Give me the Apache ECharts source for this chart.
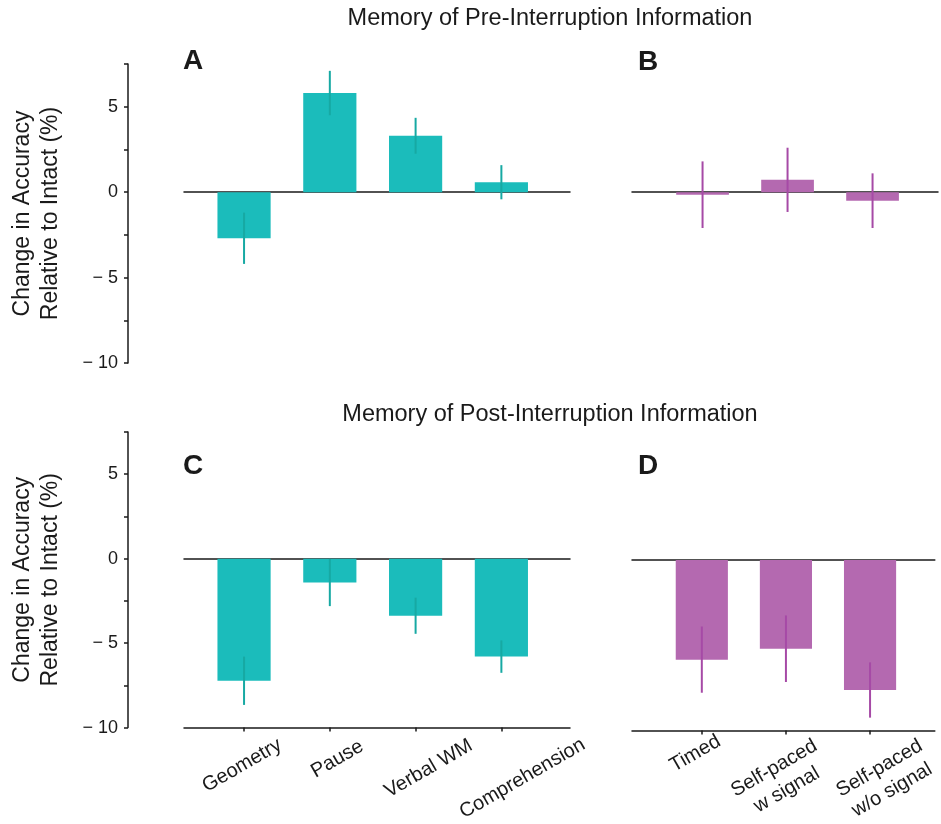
<!DOCTYPE html>
<html>
<head>
<meta charset="utf-8">
<script src="https://cdn.jsdelivr.net/npm/echarts@6/dist/echarts.min.js"></script>
<style>
  html, body { margin: 0; padding: 0; background: #ffffff; }
  #chart { width: 941px; height: 824px; }
</style>
</head>
<body>
<div id="chart"></div>
<script>
// Working-memory task conditions (panels A and C)
const taskCategories = ['Geometry', 'Pause', 'Verbal WM', 'Comprehension'];
// Interruption timing conditions (panels B and D)
const timingCategories = ['Timed', 'Self-paced\nw signal', 'Self-paced\nw/o signal'];

// Change in accuracy relative to the intact condition (%), and error-bar half widths
const preTaskMeans = [-2.7, 5.8, 3.3, 0.58];
const preTaskErrors = [1.5, 1.3, 1.05, 1.0];
const preTimingMeans = [-0.15, 0.72, -0.5];
const preTimingErrors = [1.95, 1.88, 1.6];
const postTaskMeans = [-7.23, -1.41, -3.38, -5.8];
const postTaskErrors = [1.43, 1.4, 1.07, 0.96];
const postTimingMeans = [-5.84, -5.2, -7.62];
const postTimingErrors = [1.94, 1.95, 1.62];

// Shared value range of the accuracy axis
const yMin = -10;
const yMax = 7.5;
const yStep = 2.5;

const panelTitles = ['Memory of Pre-Interruption Information', 'Memory of Post-Interruption Information'];
const panelLetters = ['A', 'B', 'C', 'D'];
const yAxisTitle = 'Change in Accuracy\nRelative to Intact (%)';

// ---- styling ----
const FONT = '"Liberation Sans", Arial, Helvetica, sans-serif';
const INK = '#1a1a1a';
const TEAL = '#1bbcbb';
const TEAL_ERR = '#17a9a3';
const PURPLE = '#b469b0';
const PURPLE_ERR = '#a64aa6';
const BAR_WIDTH = 0.62;          // in category units
const LABEL_ROTATE = 30;
const LABEL_SIZE = 20;
const TITLE_FONT = '23.5px ' + FONT;
const LETTER_FONT = 'bold 28px ' + FONT;

// screen offset (dx, dy) of each rotated tick label's centre from its tick
const taskLabelShift = [[-2, 38], [7.5, 31.5], [13, 41], [21, 51]];
const timingLabelShift = [[-6.5, 23], [-5.5, 48.5], [15.7, 48.5]];

function buildRich(prefix, shifts) {
  const rich = {};
  const c = Math.cos(LABEL_ROTATE * Math.PI / 180);
  const s = Math.sin(LABEL_ROTATE * Math.PI / 180);
  shifts.forEach(function (d, i) {
    const along = d[0] * c - d[1] * s;
    const across = d[0] * s + d[1] * c;
    const padL = Math.max(2 * along, 0);
    const padR = Math.max(-2 * along, 0);
    const padT = Math.max(2 * across, 0);
    const base = { fontSize: LABEL_SIZE, fontFamily: FONT, color: INK };
    rich[prefix + i + 'o'] = Object.assign({}, base, { padding: [padT, padR, 0, padL] });
    rich[prefix + i + 'f'] = Object.assign({}, base, { padding: [padT, padR, 5, padL] });
    rich[prefix + i + 'r'] = Object.assign({}, base, { padding: [0, padR, 0, padL] });
  });
  return rich;
}

function labelFormatter(prefix, cats) {
  return function (value) {
    const i = Math.round(value) - 1;
    const lines = (cats[i] || '').split('\n');
    if (lines.length === 1) return '{' + prefix + i + 'o|' + lines[0] + '}';
    return lines.map(function (ln, k) {
      return '{' + prefix + i + (k === 0 ? 'f' : 'r') + '|' + ln + '}';
    }).join('\n');
  };
}

function yTickLabel(v) {
  if (Math.abs(v % 5) > 1e-9) return '';
  if (v < 0) return '\u2212 ' + (-v);
  return String(v);
}

function barWithError(fill, errColor) {
  return function (params, api) {
    const x = api.value(0);
    const v = api.value(1);
    const e = api.value(2);
    const base = api.coord([x, 0]);
    const tip = api.coord([x, v]);
    const w = api.size([BAR_WIDTH, 0])[0];
    const hi = api.coord([x, v + e]);
    const lo = api.coord([x, v - e]);
    return {
      type: 'group',
      children: [
        {
          type: 'rect',
          shape: { x: base[0] - w / 2, y: Math.min(base[1], tip[1]), width: w, height: Math.abs(tip[1] - base[1]) },
          style: { fill: fill }
        },
        {
          type: 'line',
          shape: { x1: hi[0], y1: hi[1], x2: lo[0], y2: lo[1] },
          style: { stroke: errColor, lineWidth: 2 }
        }
      ]
    };
  };
}

function toData(means, errs) {
  return means.map(function (m, i) { return [i + 1, m, errs[i]]; });
}

const axisLineStyle = { color: INK, width: 1.5 };

const grids = [
  { left: 184, top: 64, width: 386, height: 299 },
  { left: 632, top: 64, width: 306, height: 299 },
  { left: 184, top: 432, width: 386, height: 299 },
  { left: 632, top: 432, width: 306, height: 299 }
];

const taskRange = [0.3, 4.8];
const timingRange = [0.17, 3.77];

function zeroLineAxis(gridIndex, range, position) {
  return {
    gridIndex: gridIndex, type: 'value', min: range[0], max: range[1], position: position,
    axisLine: { show: true, onZero: true, lineStyle: axisLineStyle },
    axisTick: { show: false }, axisLabel: { show: false }, splitLine: { show: false }
  };
}

function labelledAxis(gridIndex, range, cats, prefix, shifts) {
  const ticks = cats.map(function (c, i) { return i + 1; });
  return {
    gridIndex: gridIndex, type: 'value', min: range[0], max: range[1], position: 'bottom',
    axisLine: { show: true, onZero: false, lineStyle: axisLineStyle },
    axisTick: { show: true, inside: false, length: 4, customValues: ticks, lineStyle: { color: INK, width: 1.5 } },
    axisLabel: {
      show: true, customValues: ticks, rotate: LABEL_ROTATE, margin: 0,
      align: 'center', verticalAlign: 'middle', hideOverlap: false,
      formatter: labelFormatter(prefix, cats), rich: buildRich(prefix, shifts)
    },
    splitLine: { show: false }
  };
}

function valueAxis(gridIndex, visible) {
  return {
    gridIndex: gridIndex, type: 'value', min: yMin, max: yMax, interval: yStep,
    show: visible, offset: 56,
    name: visible ? yAxisTitle : '', nameLocation: 'middle', nameGap: 63, nameRotate: 90,
    nameTextStyle: { fontFamily: FONT, fontSize: 23, lineHeight: 28, color: INK, align: 'center' },
    axisLine: { show: true, lineStyle: axisLineStyle },
    axisTick: { show: true, inside: false, length: 4, lineStyle: { color: INK, width: 1.5 } },
    axisLabel: { show: true, margin: 10, fontFamily: FONT, fontSize: 18, color: INK, formatter: yTickLabel },
    splitLine: { show: false }
  };
}

function textEl(x, y, text, font, align) {
  return {
    type: 'text', x: x, y: y,
    style: {
      text: text, font: font, fill: INK,
      textAlign: align, align: align, textVerticalAlign: 'middle', verticalAlign: 'middle'
    }
  };
}

const option = {
  backgroundColor: '#ffffff',
  animation: false,
  grid: grids,
  xAxis: [
    zeroLineAxis(0, taskRange, 'bottom'),
    zeroLineAxis(1, timingRange, 'bottom'),
    labelledAxis(2, taskRange, taskCategories, 't', taskLabelShift),
    labelledAxis(3, timingRange, timingCategories, 'm', timingLabelShift),
    zeroLineAxis(2, taskRange, 'top'),
    zeroLineAxis(3, timingRange, 'top')
  ],
  yAxis: [valueAxis(0, true), valueAxis(1, false), valueAxis(2, true), valueAxis(3, false)],
  series: [
    { type: 'custom', xAxisIndex: 0, yAxisIndex: 0, renderItem: barWithError(TEAL, TEAL_ERR),
      encode: { x: 0, y: 1 }, data: toData(preTaskMeans, preTaskErrors) },
    { type: 'custom', xAxisIndex: 1, yAxisIndex: 1, renderItem: barWithError(PURPLE, PURPLE_ERR),
      encode: { x: 0, y: 1 }, data: toData(preTimingMeans, preTimingErrors) },
    { type: 'custom', xAxisIndex: 2, yAxisIndex: 2, renderItem: barWithError(TEAL, TEAL_ERR),
      encode: { x: 0, y: 1 }, data: toData(postTaskMeans, postTaskErrors) },
    { type: 'custom', xAxisIndex: 3, yAxisIndex: 3, renderItem: barWithError(PURPLE, PURPLE_ERR),
      encode: { x: 0, y: 1 }, data: toData(postTimingMeans, postTimingErrors) }
  ],
  graphic: [
    textEl(550, 19, panelTitles[0], TITLE_FONT, 'center'),
    textEl(550, 415, panelTitles[1], TITLE_FONT, 'center'),
    textEl(183, 61, panelLetters[0], LETTER_FONT, 'left'),
    textEl(638, 62, panelLetters[1], LETTER_FONT, 'left'),
    textEl(183, 466, panelLetters[2], LETTER_FONT, 'left'),
    textEl(638, 466, panelLetters[3], LETTER_FONT, 'left')
  ]
};

const chart = echarts.init(document.getElementById('chart'), null, { renderer: 'canvas' });
chart.setOption(option);
</script>
</body>
</html>
